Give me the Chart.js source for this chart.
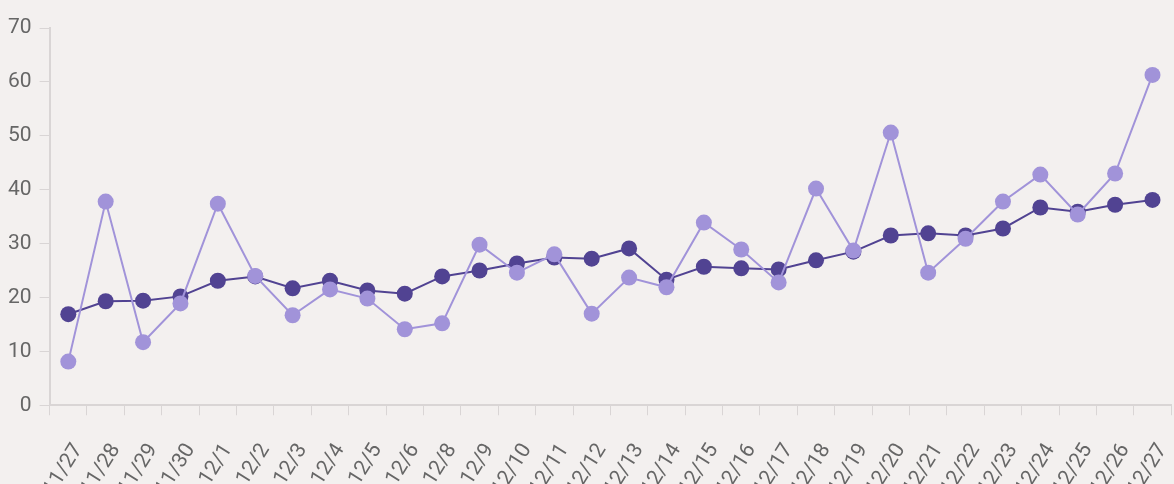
<!DOCTYPE html>
<html>
<head>
<meta charset="utf-8">
<script src="https://cdn.jsdelivr.net/npm/chart.js@4"></script>
<style>
  html, body { margin: 0; padding: 0; background: #f3f0ef; overflow: hidden; }
  #wrap { width: 1198px; height: 524px; }
</style>
</head>
<body>
<div id="wrap"><canvas id="trend-graph"></canvas></div>
<script>
const labels = ["11/27","11/28","11/29","11/30","12/1","12/2","12/3","12/4","12/5","12/6",
  "12/8","12/9","12/10","12/11","12/12","12/13","12/14","12/15","12/16","12/17",
  "12/18","12/19","12/20","12/21","12/22","12/23","12/24","12/25","12/26","12/27"];

const dailyValues = [8.1, 37.8, 11.7, 18.9, 37.4, 24.0, 16.7, 21.5, 19.8, 14.1,
  15.2, 29.8, 24.6, 28.0, 17.0, 23.7, 21.9, 33.9, 28.9, 22.8,
  40.2, 28.7, 50.6, 24.6, 30.9, 37.8, 42.8, 35.4, 43.0, 61.3];

const avgValues = [16.9, 19.3, 19.4, 20.2, 23.1, 23.9, 21.7, 23.1, 21.3, 20.7,
  23.9, 25.0, 26.3, 27.4, 27.2, 29.1, 23.3, 25.7, 25.4, 25.2,
  26.9, 28.5, 31.5, 31.9, 31.5, 32.8, 36.7, 35.9, 37.2, 38.1];

const yTicks = [0, 10, 20, 30, 40, 50, 60, 70];

Chart.defaults.font.family = "Roboto";
Chart.defaults.color = "#666";

new Chart("trend-graph", {
  type: "line",
  data: {
    labels: labels,
    datasets: [
      {
        data: dailyValues,
        borderColor: "#a193d9",
        backgroundColor: "#a193d9",
        borderWidth: 2,
        pointRadius: 8,
        pointHoverRadius: 8,
        pointBorderWidth: 0
      },
      {
        data: avgValues,
        borderColor: "#514392",
        backgroundColor: "#514392",
        borderWidth: 2,
        pointRadius: 8,
        pointHoverRadius: 8,
        pointBorderWidth: 0
      }
    ]
  },
  options: {
    responsive: true,
    maintainAspectRatio: false,
    animation: false,
    layout: { padding: { top: 28, right: 0, left: 0 } },
    plugins: { legend: { display: false }, tooltip: { enabled: false } },
    scales: {
      x: {
        offset: true,
        grid: { offset: true, drawOnChartArea: false, color: "#d9d5d5", tickLength: 10 },
        border: { color: "#d9d5d5", width: 2 },
        ticks: { font: { size: 21 }, minRotation: 58, maxRotation: 58, autoSkip: false, padding: 24, labelOffset: 10 }
      },
      y: {
        min: 0,
        max: 70,
        afterBuildTicks: axis => { axis.ticks = yTicks.map(v => ({ value: v })); },
        grid: { drawOnChartArea: false, color: "#d9d5d5", tickLength: 10 },
        border: { color: "#d9d5d5", width: 2 },
        ticks: { font: { size: 21 }, padding: 8 }
      }
    }
  }
});
</script>
</body>
</html>
